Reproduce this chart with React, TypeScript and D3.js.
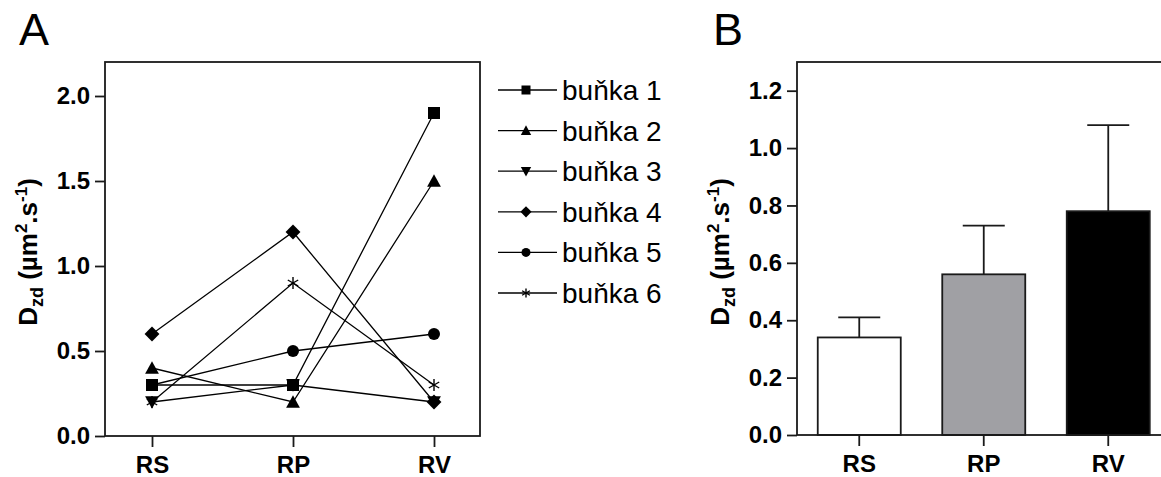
import React, { useEffect, useRef } from "react";
import * as d3 from "d3";

// data
const conditions = ["RS", "RP", "RV"];
const cellNames = ["buňka 1", "buňka 2", "buňka 3", "buňka 4", "buňka 5", "buňka 6"];
const cellSymbols = ["square", "triangleUp", "triangleDown", "diamond", "circle", "asterisk"];
const cell1 = [0.3, 0.3, 1.9];
const cell2 = [0.4, 0.2, 1.5];
const cell3 = [0.2, 0.3, 0.2];
const cell4 = [0.6, 1.2, 0.2];
const cell5 = [0.3, 0.5, 0.6];
const cell6 = [0.2, 0.9, 0.3];
const cellValues = [cell1, cell2, cell3, cell4, cell5, cell6];

const barMeans = [0.34, 0.56, 0.78];
const barErrTop = [0.41, 0.73, 1.08];
const barColors = ["#ffffff", "#a0a0a4", "#000000"];

const ticksA = [0, 0.5, 1.0, 1.5, 2.0];
const ticksB = [0, 0.2, 0.4, 0.6, 0.8, 1.0, 1.2];

const FONT = "'Liberation Sans', Arial, Helvetica, sans-serif";
const INK = "#1a1a1a";
const SW = 1.8;

// draws a marker of the given kind centred at 0,0
function drawMarker(g: any, kind: string, size: number) {
  if (kind === "square") {
    g.append("rect").attr("x", -size / 2).attr("y", -size / 2)
      .attr("width", size).attr("height", size).attr("fill", "#000");
  } else if (kind === "triangleUp" || kind === "triangleDown") {
    const h = size * 0.95;
    const w = size * 1.15;
    const pts = kind === "triangleUp"
      ? [[0, -h / 2 - 1], [w / 2, h / 2], [-w / 2, h / 2]]
      : [[0, h / 2 + 1], [w / 2, -h / 2], [-w / 2, -h / 2]];
    g.append("polygon").attr("points", pts.map(p => p.join(",")).join(" ")).attr("fill", "#000");
  } else if (kind === "diamond") {
    const r = size * 0.62;
    g.append("polygon").attr("points", `0,${-r} ${r},0 0,${r} ${-r},0`).attr("fill", "#000");
  } else if (kind === "circle") {
    g.append("circle").attr("r", size / 2).attr("fill", "#000");
  } else if (kind === "asterisk") {
    const r = size / 2;
    [90, 30, 150].forEach(a => {
      const dx = Math.cos((a * Math.PI) / 180) * r;
      const dy = Math.sin((a * Math.PI) / 180) * r;
      g.append("line").attr("x1", -dx).attr("y1", -dy).attr("x2", dx).attr("y2", dy)
        .attr("stroke", "#000").attr("stroke-width", 1.4);
    });
  }
}

// y label with sub/superscripts
function yLabel(svg: any, x: number, y: number) {
  const t = svg.append("text")
    .attr("transform", `translate(${x},${y}) rotate(-90)`)
    .attr("text-anchor", "middle")
    .attr("font-family", FONT).attr("font-weight", "bold").attr("font-size", 26)
    .attr("fill", "#000");
  t.append("tspan").text("D");
  t.append("tspan").text("zd").attr("font-size", 18).attr("dy", 6);
  t.append("tspan").text(" (µm").attr("dy", -6);
  t.append("tspan").text("2").attr("font-size", 17).attr("dy", -10);
  t.append("tspan").text(".s").attr("dy", 10);
  t.append("tspan").text("-1").attr("font-size", 17).attr("dy", -10);
  t.append("tspan").text(")").attr("dy", 10);
}

function styleAxis(ax: any) {
  ax.select(".domain").remove();
  ax.selectAll("line").attr("stroke", INK).attr("stroke-width", SW);
  ax.selectAll("text").attr("font-family", FONT).attr("font-weight", "bold")
    .attr("font-size", 24).attr("fill", "#000");
}

const App = () => {
  const svgRef = useRef<SVGSVGElement>(null);

  useEffect(() => {
    const svg = d3.select(svgRef.current);
    svg.selectAll("*").remove();

    // ---------- panel A ----------
    const boxA = { left: 105, right: 480, top: 62, bottom: 436 };
    const xA = d3.scalePoint().domain(conditions).range([152, 434]);
    const yA = d3.scaleLinear().domain([0, 2.2]).range([boxA.bottom, boxA.top]);

    svg.append("text").attr("x", 19).attr("y", 45).text("A")
      .attr("font-family", FONT).attr("font-size", 45).attr("fill", "#000");

    svg.append("rect")
      .attr("x", boxA.left).attr("y", boxA.top)
      .attr("width", boxA.right - boxA.left).attr("height", boxA.bottom - boxA.top)
      .attr("fill", "none").attr("stroke", INK).attr("stroke-width", SW);

    const yAxisA = svg.append("g").attr("transform", `translate(${boxA.left},0)`)
      .call(d3.axisLeft(yA).tickValues(ticksA).tickFormat(d3.format(".1f")).tickSize(10).tickPadding(5));
    const xAxisA = svg.append("g").attr("transform", `translate(0,${boxA.bottom})`)
      .call(d3.axisBottom(xA).tickSize(11).tickPadding(9));
    styleAxis(yAxisA);
    styleAxis(xAxisA);

    const line = d3.line<number>().x((d, i) => xA(conditions[i]) as number).y(d => yA(d));
    cellValues.forEach(vals => {
      svg.append("path").attr("d", line(vals) as string)
        .attr("fill", "none").attr("stroke", "#000").attr("stroke-width", 1.3);
    });
    cellValues.forEach((vals, si) => {
      vals.forEach((v, i) => {
        const g = svg.append("g").attr("transform", `translate(${xA(conditions[i])},${yA(v)})`);
        drawMarker(g, cellSymbols[si], 12);
      });
    });

    yLabel(svg, 37, 252);

    // legend
    const legY = d3.scalePoint().domain(cellNames).range([90, 293]);
    cellNames.forEach((name, i) => {
      const y = legY(name) as number;
      svg.append("line").attr("x1", 498).attr("x2", 557).attr("y1", y).attr("y2", y)
        .attr("stroke", "#000").attr("stroke-width", 1.3);
      const g = svg.append("g").attr("transform", `translate(526,${y})`);
      drawMarker(g, cellSymbols[i], 9);
      svg.append("text").attr("x", 562).attr("y", y + 10).text(name)
        .attr("font-family", FONT).attr("font-size", 28).attr("fill", "#000");
    });

    // ---------- panel B ----------
    const boxB = { left: 797, right: 1170.5, top: 62, bottom: 435 };
    const xB = d3.scaleBand().domain(conditions).range([boxB.left, boxB.right])
      .paddingInner(1 / 3).paddingOuter(1 / 6);
    const yB = d3.scaleLinear().domain([0, 1.3]).range([boxB.bottom, boxB.top]);

    svg.append("text").attr("x", 713).attr("y", 45).text("B")
      .attr("font-family", FONT).attr("font-size", 45).attr("fill", "#000");

    conditions.forEach((c, i) => {
      const x0 = xB(c) as number;
      const cx = x0 + xB.bandwidth() / 2;
      // error bar (upper only)
      svg.append("line").attr("x1", cx).attr("x2", cx)
        .attr("y1", yB(barMeans[i])).attr("y2", yB(barErrTop[i]))
        .attr("stroke", INK).attr("stroke-width", SW);
      svg.append("line").attr("x1", cx - 21).attr("x2", cx + 21)
        .attr("y1", yB(barErrTop[i])).attr("y2", yB(barErrTop[i]))
        .attr("stroke", INK).attr("stroke-width", SW);
      svg.append("rect").attr("x", x0).attr("y", yB(barMeans[i]))
        .attr("width", xB.bandwidth()).attr("height", yB(0) - yB(barMeans[i]))
        .attr("fill", barColors[i]).attr("stroke", INK).attr("stroke-width", SW);
    });

    svg.append("rect")
      .attr("x", boxB.left).attr("y", boxB.top)
      .attr("width", boxB.right - boxB.left).attr("height", boxB.bottom - boxB.top)
      .attr("fill", "none").attr("stroke", INK).attr("stroke-width", SW);

    const yAxisB = svg.append("g").attr("transform", `translate(${boxB.left},0)`)
      .call(d3.axisLeft(yB).tickValues(ticksB).tickFormat(d3.format(".1f")).tickSize(10).tickPadding(5));
    const xAxisB = svg.append("g").attr("transform", `translate(0,${boxB.bottom})`)
      .call(d3.axisBottom(xB).tickSize(11).tickPadding(9));
    styleAxis(yAxisB);
    styleAxis(xAxisB);

    yLabel(svg, 729, 252);
  }, []);

  return (
    <div style={{ position: "absolute", left: 0, top: 0 }}>
      <svg ref={svgRef} width={1161} height={477} style={{ display: "block", background: "#fff" }} />
    </div>
  );
};

export default App;
